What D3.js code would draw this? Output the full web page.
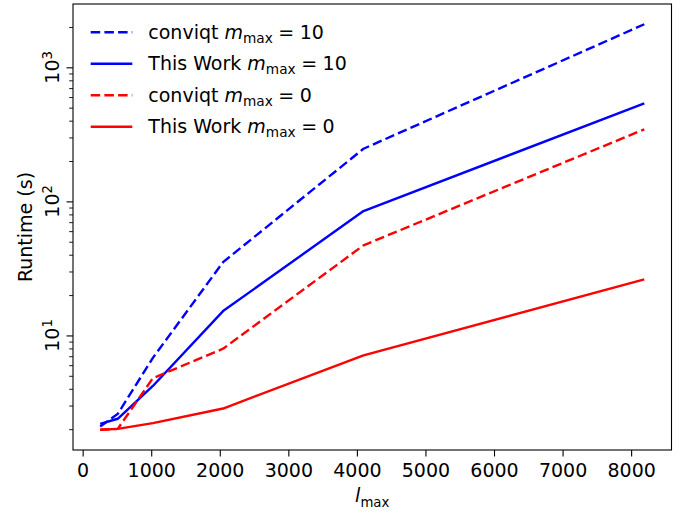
<!DOCTYPE html>
<html><head><meta charset="utf-8">
<script src="https://cdn.jsdelivr.net/npm/d3@7"></script>
<style>
body{margin:0;background:#fff}
text{font-family:"DejaVu Sans",sans-serif;fill:#000}
</style>
</head><body>
<svg id="c" width="691" height="513"></svg>
<script>
// ---- data ----
const lmax = [256, 512, 1024, 2048, 4096, 8192];
const conviqtM10 = [2.09, 2.6, 6.8, 35.2, 247, 2095];
const thisWorkM10 = [2.19, 2.39, 4.2, 15.2, 84.7, 538];
const conviqtM0 = [1.98, 2.01, 4.8, 7.96, 47, 345];
const thisWorkM0 = [1.98, 2.01, 2.22, 2.85, 7.1, 26.2];
const xTickValues = [0, 1000, 2000, 3000, 4000, 5000, 6000, 7000, 8000];
const yTickExponents = [1, 2, 3];
const seriesLabels = ["conviqt", "This Work", "conviqt", "This Work"];
const seriesM = ["10", "10", "0", "0"];

const series = [
  {name: seriesLabels[0], m: seriesM[0], values: conviqtM10, color: "#0000ff", dashed: true},
  {name: seriesLabels[1], m: seriesM[1], values: thisWorkM10, color: "#0000ff", dashed: false},
  {name: seriesLabels[2], m: seriesM[2], values: conviqtM0, color: "#ff0000", dashed: true},
  {name: seriesLabels[3], m: seriesM[3], values: thisWorkM0, color: "#ff0000", dashed: false}
];

const L = 73, R = 671.5, T = 4, B = 450;
const FS = 19;
const LW = 2.4;
const DASH = "9.5,4.2";

const svg = d3.select("#c");

// x domain with 5% margins
const xmin = d3.min(lmax), xmax = d3.max(lmax);
const xm = 0.05 * (xmax - xmin);
const x = d3.scaleLinear().domain([xmin - xm, xmax + xm]).range([L, R]);

const allY = series.flatMap(s => s.values);
const lymin = Math.log10(d3.min(allY)), lymax = Math.log10(d3.max(allY));
const ym = 0.05 * (lymax - lymin);
const y = d3.scaleLog().domain([Math.pow(10, lymin - ym), Math.pow(10, lymax + ym)]).range([B, T]);

// lines
const line = d3.line().x(d => x(d[0])).y(d => y(d[1]));
const plot = svg.append("g");
plot.append("clipPath").attr("id", "clip").append("rect")
  .attr("x", L).attr("y", T).attr("width", R - L).attr("height", B - T);
series.forEach(s => {
  plot.append("path")
    .attr("clip-path", "url(#clip)")
    .attr("d", line(lmax.map((v, i) => [v, s.values[i]])))
    .attr("fill", "none")
    .attr("stroke", s.color)
    .attr("stroke-width", LW)
    .attr("stroke-linejoin", "round")
    .attr("stroke-dasharray", s.dashed ? DASH : null);
});

// x axis
const xAxis = d3.axisBottom(x).tickValues(xTickValues).tickSize(6.5).tickPadding(7).tickFormat(d3.format("d"));
const gx = svg.append("g").attr("transform", `translate(0,${B})`).call(xAxis);
gx.select(".domain").remove();
gx.selectAll(".tick line").attr("stroke", "#000").attr("stroke-width", 1.1);
gx.selectAll(".tick text").attr("font-size", FS).attr("font-family", "DejaVu Sans").attr("fill", "#000");

// y axis: major + minor
const majors = yTickExponents.map(e => Math.pow(10, e));
const [y0, y1] = y.domain();
const minors = [];
for (let e = Math.floor(Math.log10(y0)); e <= Math.ceil(Math.log10(y1)); e++) {
  for (let k = 2; k <= 9; k++) {
    const v = k * Math.pow(10, e);
    if (v >= y0 && v <= y1) minors.push(v);
  }
}
const yAxisMinor = d3.axisLeft(y).tickValues(minors).tickSize(3.8).tickFormat("");
const gym = svg.append("g").attr("transform", `translate(${L},0)`).call(yAxisMinor);
gym.select(".domain").remove();
gym.selectAll(".tick line").attr("stroke", "#000").attr("stroke-width", 0.9);

const yAxisMajor = d3.axisLeft(y).tickValues(majors).tickSize(6.5).tickFormat("");
const gy = svg.append("g").attr("transform", `translate(${L},0)`).call(yAxisMajor);
gy.select(".domain").remove();
gy.selectAll(".tick line").attr("stroke", "#000").attr("stroke-width", 1.1);

yTickExponents.forEach(e => {
  const t = svg.append("text")
    .attr("transform", `translate(58.5,${y(Math.pow(10, e))}) rotate(-90)`)
    .attr("text-anchor", "middle")
    .attr("font-size", FS);
  t.append("tspan").text("10");
  t.append("tspan").attr("font-size", FS * 0.7).attr("dy", -6.5).text(String(e));
});

// frame
svg.append("rect").attr("x", L).attr("y", T).attr("width", R - L).attr("height", B - T)
  .attr("fill", "none").attr("stroke", "#000").attr("stroke-width", 1.1);

// axis labels
const xl = svg.append("text").attr("x", (L + R) / 2).attr("y", 502).attr("text-anchor", "middle").attr("font-size", FS);
xl.append("tspan").attr("font-style", "italic").text("l");
xl.append("tspan").attr("font-size", FS * 0.7).attr("dy", 4.5).text("max");

svg.append("text")
  .attr("transform", `translate(32.3,${(T + B) / 2}) rotate(-90)`)
  .attr("text-anchor", "middle").attr("font-size", FS).text("Runtime (s)");

// legend
const legY0 = 32.3, legDY = 31.5;
series.forEach((s, i) => {
  const ly = legY0 + i * legDY;
  svg.append("line").attr("x1", 90.7).attr("x2", 132.3).attr("y1", ly).attr("y2", ly)
    .attr("stroke", s.color).attr("stroke-width", LW)
    .attr("stroke-dasharray", s.dashed ? DASH : null);
  const t = svg.append("text").attr("x", 148.3).attr("y", ly + 6.3).attr("font-size", FS);
  t.append("tspan").text(s.name + " ");
  t.append("tspan").attr("font-style", "italic").text("m");
  t.append("tspan").attr("font-size", FS * 0.72).attr("dy", 4.3).text("max");
  t.append("tspan").attr("dy", -4.3).attr("dx", 5.5).text("=");
  t.append("tspan").attr("dx", 5.5).text(s.m);
});
</script>
</body></html>
